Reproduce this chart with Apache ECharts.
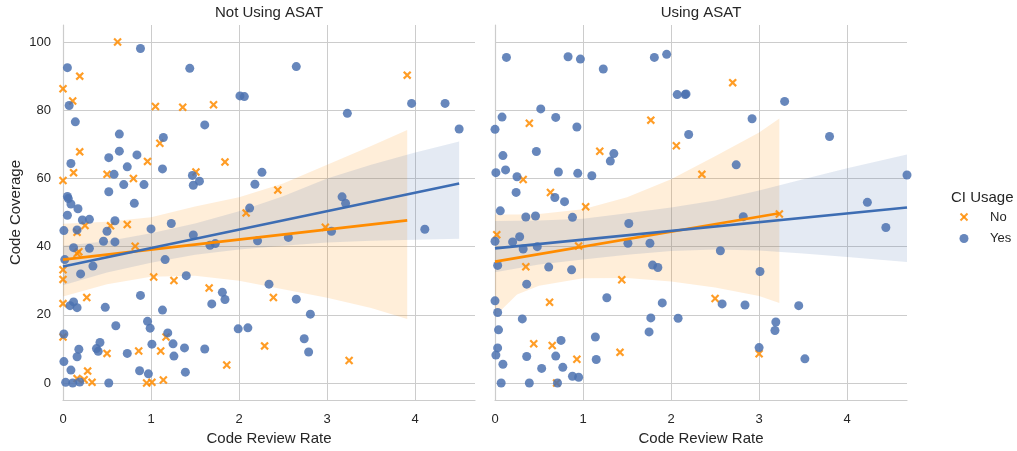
<!DOCTYPE html>
<html>
<head>
<meta charset="utf-8">
<script src="https://cdn.jsdelivr.net/npm/echarts@6/dist/echarts.min.js"></script>
<style>
html,body{margin:0;padding:0;background:#fff;}
#chart{width:1017px;height:451px;}
</style>
</head>
<body>
<div id="chart"></div>
<script>
// ---------------- data ----------------
const panelTitles = ['Not Using ASAT', 'Using ASAT'];
const hueLevels = ['No', 'Yes'];
const xTicks = [0, 1, 2, 3, 4];
const yTicks = [0, 20, 40, 60, 80, 100];

// Not Using ASAT, CI Usage = No
const leftNo = [
  [0.62,100],[0.19,90.0],[0.00,86.3],[0.11,82.7],[1.05,81.1],[1.36,80.9],[1.71,81.6],
  [0.19,67.8],[1.10,70.3],[0.96,65.0],[1.84,64.8],[0.12,61.7],[0.50,61.2],[0.80,60.0],
  [1.51,61.9],[0.00,59.4],[2.08,49.9],[3.91,90.3],[2.44,56.6],[0.16,44.2],[0.25,46.2],
  [0.54,46.1],[0.73,46.5],[0.18,38.5],[0.16,38.0],[0.82,40.1],[0.00,33.2],[0.00,30.4],
  [1.03,31.1],[1.26,30.1],[0.00,23.3],[0.27,25.1],[1.66,27.9],[0.00,13.5],[0.50,8.7],
  [0.86,9.4],[1.11,9.4],[1.17,13.5],[1.86,5.3],[0.28,3.5],[0.16,1.3],[0.24,1.0],
  [0.33,0.2],[0.95,0.0],[1.01,0.2],[1.14,0.9],[2.98,45.7],[2.39,25.1],[2.29,10.9],[3.25,6.6]
];
// Not Using ASAT, CI Usage = Yes
const leftYes = [
  [0.05,92.5],[0.88,98.1],[1.44,92.3],[0.07,81.4],[0.14,76.6],[2.01,84.2],[2.06,84.0],
  [1.61,75.7],[0.64,73.0],[1.14,72.0],[0.64,68.0],[0.52,66.1],[0.84,66.9],[0.09,64.4],
  [0.58,61.2],[0.73,63.4],[1.13,62.8],[1.47,60.9],[1.48,58.0],[1.55,59.2],[0.69,58.2],
  [0.92,58.2],[0.52,56.1],[0.81,52.7],[0.05,54.7],[0.06,54.1],[0.09,52.5],[0.17,51.1],
  [2.26,61.8],[2.18,58.3],[2.12,51.3],[2.65,92.8],[3.23,79.1],[3.96,82.0],[4.34,82.0],
  [4.50,74.5],[3.17,54.6],[3.21,52.7],[0.05,49.2],[0.22,47.8],[0.30,48.0],[0.01,44.7],
  [0.16,44.9],[0.59,47.6],[0.50,44.5],[0.46,41.6],[0.59,41.4],[1.00,45.2],[1.23,46.8],
  [1.48,43.4],[0.12,39.7],[0.30,39.5],[0.02,36.2],[0.34,34.3],[1.16,36.2],[0.20,32.0],
  [1.67,40.4],[1.73,40.9],[2.21,41.7],[1.40,31.5],[0.88,25.7],[0.12,23.8],[0.08,22.7],
  [0.16,22.1],[0.48,22.2],[1.13,21.4],[1.69,23.2],[1.81,26.6],[1.84,24.5],[0.01,14.4],
  [0.60,16.8],[0.96,18.1],[0.99,16.1],[1.19,14.7],[1.99,15.9],[2.10,16.2],[0.42,11.9],
  [0.38,10.1],[0.40,9.3],[0.18,9.9],[0.16,7.7],[0.73,8.7],[1.01,11.4],[1.25,11.5],
  [1.26,7.9],[1.38,10.3],[1.61,10.0],[0.01,6.3],[0.09,3.8],[0.87,3.6],[0.97,2.7],
  [1.39,3.2],[0.03,0.2],[0.11,0.0],[0.19,0.3],[0.52,0.0],[2.56,42.7],[3.05,44.5],
  [4.11,45.1],[2.34,29.0],[2.65,24.6],[2.81,20.2],[2.74,13.0],[2.79,9.1]
];
// Using ASAT, CI Usage = No
const rightNo = [
  [0.39,76.2],[1.77,77.1],[1.19,68.0],[2.06,69.6],[0.32,59.7],[2.35,61.2],[0.63,55.9],
  [1.03,51.7],[2.70,88.1],[3.23,49.6],[0.02,43.5],[0.95,40.2],[0.35,34.1],[1.44,30.3],
  [0.62,23.7],[0.44,11.5],[0.65,11.0],[1.42,9.0],[0.93,7.0],[0.70,0.0],[2.50,24.8],[3.00,8.6]
];
// Using ASAT, CI Usage = Yes
const rightYes = [
  [0.13,95.5],[0.83,95.7],[0.97,95.0],[1.23,92.1],[1.81,95.5],[1.95,96.4],[2.07,84.6],
  [2.16,84.6],[2.17,84.8],[0.52,80.4],[0.08,78.0],[0.69,77.9],[0.00,74.4],[0.93,75.1],
  [2.20,72.9],[0.09,66.7],[0.47,67.9],[1.35,67.3],[1.31,65.1],[0.01,61.7],[0.12,62.5],
  [0.25,60.5],[0.72,61.9],[0.94,61.5],[1.10,60.8],[0.24,55.9],[0.68,54.4],[0.79,53.2],
  [0.06,50.5],[0.35,48.7],[0.46,49.0],[0.88,48.6],[3.29,82.6],[2.92,77.5],[3.80,72.3],
  [2.74,64.0],[4.68,61.0],[4.23,53.0],[2.82,48.8],[1.52,46.8],[0.20,41.4],[0.28,42.9],
  [0.32,39.3],[0.48,40.0],[0.00,41.6],[1.51,41.0],[1.76,41.0],[0.03,34.5],[0.61,34.0],
  [0.87,33.2],[1.79,34.6],[1.85,33.9],[0.36,29.0],[1.27,25.0],[1.90,23.5],[0.00,24.1],
  [0.03,20.7],[0.31,18.8],[1.77,19.1],[2.08,19.0],[0.04,15.6],[1.75,15.0],[1.14,13.5],
  [0.75,12.5],[0.03,10.3],[0.01,8.2],[0.36,7.8],[0.69,7.9],[0.09,5.5],[0.53,4.3],
  [0.77,4.6],[1.15,6.9],[0.88,2.0],[0.95,1.7],[0.07,0.0],[0.39,0.0],[0.71,0.0],
  [4.44,45.6],[2.56,38.8],[3.01,32.7],[2.58,23.2],[2.84,22.9],[3.45,22.7],[3.19,17.9],
  [3.18,15.4],[3.00,10.4],[3.52,7.1]
];

// regression lines (endpoints)
const leftNoFitX = [0, 3.91],  leftNoFitY = [36.2, 47.7];
const leftYesFitX = [0, 4.50], leftYesFitY = [34.2, 58.5];
const rightNoFitX = [0, 3.23], rightNoFitY = [35.6, 49.8];
const rightYesFitX = [0, 4.68], rightYesFitY = [39.5, 51.5];

// confidence bands
const leftNoBandX  = [0, 0.5, 1, 1.5, 2, 2.5, 3, 3.5, 3.91];
const leftNoBandLo = [25.4, 29.0, 31.2, 31.5, 30.0, 27.5, 25.0, 22.0, 18.8];
const leftNoBandHi = [46.7, 47.3, 48.6, 51.8, 54.5, 58.5, 64.0, 69.5, 74.2];
const leftYesBandX  = [0, 0.5, 1, 1.5, 2, 2.5, 3, 3.5, 4, 4.5];
const leftYesBandLo = [28.7, 32.4, 35.3, 37.6, 39.2, 40.3, 41.2, 41.7, 42.0, 42.3];
const leftYesBandHi = [40.3, 41.6, 43.9, 46.8, 50.4, 54.8, 60.0, 64.0, 67.6, 70.8];
const rightNoBandX  = [0, 0.25, 0.5, 1, 1.5, 2, 2.5, 3, 3.23];
const rightNoBandLo = [19.6, 26.0, 28.5, 30.7, 30.8, 29.8, 28.0, 25.5, 23.5];
const rightNoBandHi = [49.4, 49.4, 49.6, 51.0, 54.5, 59.8, 66.5, 73.5, 77.6];
const rightYesBandX  = [0, 0.5, 1, 1.5, 2, 2.5, 3, 3.5, 4, 4.68];
const rightYesBandLo = [32.5, 34.8, 36.2, 37.6, 38.7, 39.2, 38.9, 38.0, 37.0, 35.5];
const rightYesBandHi = [47.5, 47.7, 48.2, 49.8, 51.5, 53.5, 56.5, 59.8, 63.0, 67.0];

// ---------------- styling ----------------
const FONT = "'Liberation Sans', Arial, sans-serif";
const TXT = '#262626';
const GRIDC = '#cccccc';
const ORANGE = '#ff8c00';
const BLUE = '#4c72b0';
const XPATH = 'path://M0,1.8L1.8,0L5,3.2L8.2,0L10,1.8L6.8,5L10,8.2L8.2,10L5,6.8L1.8,10L0,8.2L3.2,5Z';

const chart = echarts.init(document.getElementById('chart'), null, {renderer: 'canvas'});

function zip(xs, ys) { return xs.map((x, i) => [x, ys[i]]); }

const grids = [
  {left: 63, top: 25, width: 412, height: 380},
  {left: 495, top: 25, width: 412, height: 380}
];

function xAxis(i) {
  return {
    type: 'value', gridIndex: i, min: 0, max: 4.68,
    axisLine: {show: true, onZero: false, lineStyle: {color: GRIDC, width: 1.2}},
    axisTick: {show: false, customValues: xTicks},
    axisLabel: {customValues: xTicks, fontSize: 13, color: TXT, fontFamily: FONT, margin: 13},
    splitLine: {show: true, lineStyle: {color: GRIDC, width: 1}},
    name: 'Code Review Rate', nameLocation: 'middle', nameGap: 28,
    nameTextStyle: {fontSize: 15, color: TXT, fontFamily: FONT}
  };
}
function yAxis(i) {
  return {
    type: 'value', gridIndex: i, min: -5, max: 105,
    axisLine: {show: true, onZero: false, lineStyle: {color: GRIDC, width: 1.2}},
    axisTick: {show: false, customValues: yTicks},
    axisLabel: {show: i === 0, customValues: yTicks, fontSize: 13, color: TXT, fontFamily: FONT, margin: 12},
    splitLine: {show: true, lineStyle: {color: GRIDC, width: 1}},
    name: i === 0 ? 'Code Coverage' : '', nameLocation: 'middle', nameGap: 40,
    nameTextStyle: {fontSize: 15, color: TXT, fontFamily: FONT}
  };
}

const series = [];
function addBand(i, xs, lo, hi, color) {
  series.push({
    type: 'custom', xAxisIndex: i, yAxisIndex: i, z: 2, silent: true,
    data: xs.map((x, k) => [x, lo[k], hi[k]]),
    encode: {x: 0, y: [1, 2]},
    renderItem: function (params, api) {
      if (params.dataIndex !== 0) return null;
      const pts = [];
      for (let k = 0; k < xs.length; k++) pts.push(api.coord([xs[k], hi[k]]));
      for (let k = xs.length - 1; k >= 0; k--) pts.push(api.coord([xs[k], lo[k]]));
      return {type: 'polygon', shape: {points: pts}, style: {fill: color}, silent: true};
    }
  });
}
function addPanel(i, noPts, yesPts, noFit, yesFit, noBand, yesBand) {
  series.push({
    type: 'scatter', name: 'No', xAxisIndex: i, yAxisIndex: i, data: noPts,
    symbol: XPATH, symbolSize: 8.5, z: 2,
    itemStyle: {color: ORANGE, opacity: 0.85}, silent: true
  });
  addBand(i, noBand[0], noBand[1], noBand[2], 'rgba(255,140,0,0.15)');
  series.push({
    type: 'scatter', name: 'Yes', xAxisIndex: i, yAxisIndex: i, data: yesPts,
    symbol: 'circle', symbolSize: 9, z: 2,
    itemStyle: {color: BLUE, opacity: 0.85}, silent: true
  });
  addBand(i, yesBand[0], yesBand[1], yesBand[2], 'rgba(76,114,176,0.15)');
  series.push({
    type: 'line', xAxisIndex: i, yAxisIndex: i, data: noFit, symbol: 'none', z: 4,
    lineStyle: {color: ORANGE, width: 2.6}, silent: true
  });
  series.push({
    type: 'line', xAxisIndex: i, yAxisIndex: i, data: yesFit, symbol: 'none', z: 4,
    lineStyle: {color: '#3d6db3', width: 2.6}, silent: true
  });
}

addPanel(0, leftNo, leftYes, zip(leftNoFitX, leftNoFitY), zip(leftYesFitX, leftYesFitY),
  [leftNoBandX, leftNoBandLo, leftNoBandHi], [leftYesBandX, leftYesBandLo, leftYesBandHi]);
addPanel(1, rightNo, rightYes, zip(rightNoFitX, rightNoFitY), zip(rightYesFitX, rightYesFitY),
  [rightNoBandX, rightNoBandLo, rightNoBandHi], [rightYesBandX, rightYesBandLo, rightYesBandHi]);

const graphic = [
  {type: 'text', x: 269, y: 12.5, style: {text: panelTitles[0], fontSize: 15, fontFamily: FONT, fill: TXT, align: 'center', verticalAlign: 'middle'}},
  {type: 'text', x: 701, y: 12.5, style: {text: panelTitles[1], fontSize: 15, fontFamily: FONT, fill: TXT, align: 'center', verticalAlign: 'middle'}},
  {type: 'text', x: 951, y: 197.5, style: {text: 'CI Usage', fontSize: 15, fontFamily: FONT, fill: TXT, verticalAlign: 'middle'}},
  {type: 'line', shape: {x1: 960.5, y1: 213.5, x2: 967.5, y2: 220.5}, style: {stroke: ORANGE, lineWidth: 1.9, opacity: 0.85}},
  {type: 'line', shape: {x1: 967.5, y1: 213.5, x2: 960.5, y2: 220.5}, style: {stroke: ORANGE, lineWidth: 1.9, opacity: 0.85}},
  {type: 'text', x: 990, y: 217.5, style: {text: hueLevels[0], fontSize: 13, fontFamily: FONT, fill: TXT, verticalAlign: 'middle'}},
  {type: 'circle', shape: {cx: 964, cy: 238.5, r: 4.5}, style: {fill: BLUE, opacity: 0.85}},
  {type: 'text', x: 990, y: 238.5, style: {text: hueLevels[1], fontSize: 13, fontFamily: FONT, fill: TXT, verticalAlign: 'middle'}}
];

chart.setOption({
  animation: false,
  backgroundColor: '#ffffff',
  grid: grids,
  xAxis: [xAxis(0), xAxis(1)],
  yAxis: [yAxis(0), yAxis(1)],
  series: series,
  graphic: graphic
});
</script>
</body>
</html>
